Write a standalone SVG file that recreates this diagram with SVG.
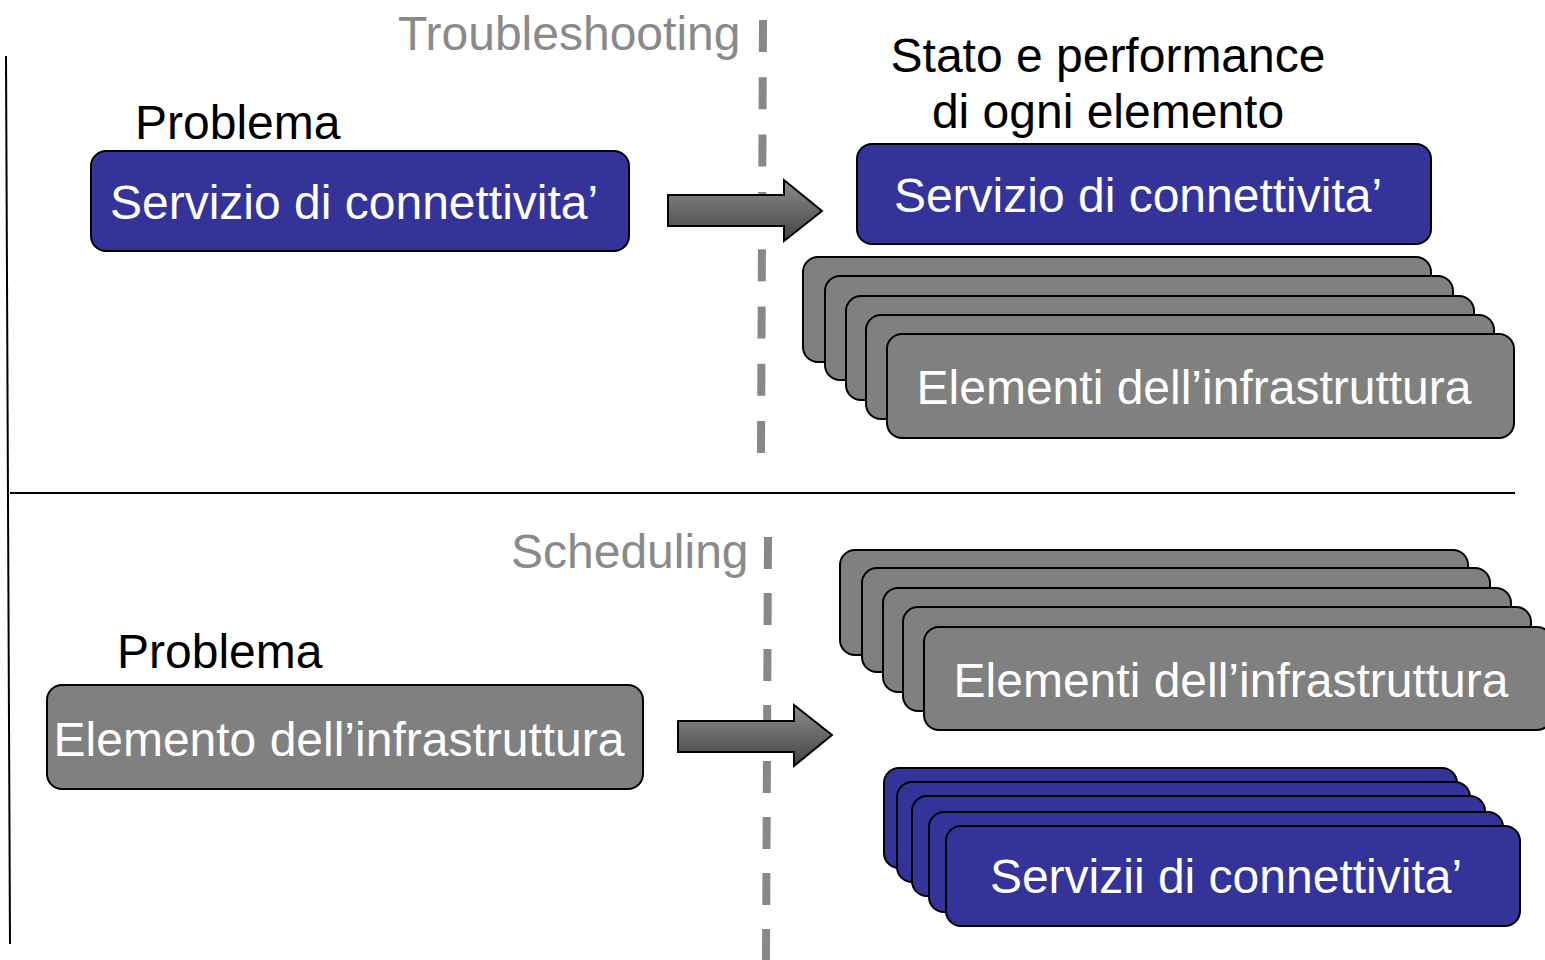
<svg xmlns="http://www.w3.org/2000/svg" width="1545" height="960" viewBox="0 0 1545 960">
<style>
text{font-family:"Liberation Sans",Arial,sans-serif;font-size:48px}
.blue{fill:#333399;stroke:#000;stroke-width:2}
.gray{fill:#808080;stroke:#000;stroke-width:2}
.w{fill:#fff}
.k{fill:#000}
.g{fill:#8a8a8a}
.dash{stroke:#888;stroke-width:8;fill:none}
.arrow{fill:url(#ag);stroke:#000;stroke-width:2;stroke-linejoin:miter}
</style>
<defs>
<linearGradient id="ag" x1="0" y1="0" x2="0" y2="1">
<stop offset="0" stop-color="#8c8c8c"/>
<stop offset="1" stop-color="#444"/>
</linearGradient>
</defs>
<rect width="1545" height="960" fill="#fff"/>
<g id="frame">
<line x1="6" y1="56" x2="10" y2="944" stroke="#000" stroke-width="2"/>
<line x1="10" y1="493" x2="1515" y2="493" stroke="#000" stroke-width="2"/>
</g>
<g id="dividers">
<line class="dash" x1="763" y1="20" x2="761" y2="453" stroke-dasharray="32 25.3"/>
<line class="dash" x1="768" y1="537" x2="766" y2="960" stroke-dasharray="32 24"/>
</g>
<g id="labels">
<text class="g" x="398" y="50">Troubleshooting</text>
<text class="g" x="511" y="568">Scheduling</text>
<text class="k" x="135" y="139">Problema</text>
<text class="k" x="117" y="668">Problema</text>
<text class="k" x="1108" y="72" text-anchor="middle">Stato e performance</text>
<text class="k" x="1108" y="128" text-anchor="middle">di ogni elemento</text>
</g>
<g id="connectors">
<polygon class="arrow" points="668,195 784,195 784,180 822,211 784,241 784,226 668,226"/>
<polygon class="arrow" points="678,721 794,721 794,705 832,735 794,766 794,752 678,752"/>
</g>
<g id="problem-service">
<rect class="blue" x="91" y="151" width="538" height="100" rx="15"/>
<text class="w" x="110" y="219">Servizio di connettivita’</text>
</g>
<g id="state-service">
<rect class="blue" x="857" y="144" width="574" height="100" rx="15"/>
<text class="w" x="1138" y="212" text-anchor="middle">Servizio di connettivita’</text>
</g>
<g id="top-elements">
<rect class="gray" x="803" y="257" width="628" height="105" rx="15"/>
<rect class="gray" x="825" y="276" width="628" height="104" rx="15"/>
<rect class="gray" x="846" y="296" width="628" height="104" rx="15"/>
<rect class="gray" x="866" y="315" width="628" height="104" rx="15"/>
<rect class="gray" x="887" y="334" width="627" height="104" rx="15"/>
<text class="w" x="1194" y="404" text-anchor="middle">Elementi dell’infrastruttura</text>
</g>
<g id="problem-element">
<rect class="gray" x="47" y="685" width="596" height="104" rx="15"/>
<text class="w" x="339" y="756" text-anchor="middle">Elemento dell’infrastruttura</text>
</g>
<g id="bottom-elements">
<rect class="gray" x="840" y="550" width="628" height="105" rx="15"/>
<rect class="gray" x="862" y="568" width="628" height="104" rx="15"/>
<rect class="gray" x="883" y="588" width="628" height="104" rx="15"/>
<rect class="gray" x="903" y="607" width="628" height="104" rx="15"/>
<rect class="gray" x="924" y="627" width="628" height="103" rx="15"/>
<text class="w" x="1231" y="697" text-anchor="middle">Elementi dell’infrastruttura</text>
</g>
<g id="services">
<rect class="blue" x="884" y="768" width="573" height="100" rx="15"/>
<rect class="blue" x="897" y="782" width="573" height="100" rx="15"/>
<rect class="blue" x="912" y="796" width="573" height="100" rx="15"/>
<rect class="blue" x="929" y="812" width="574" height="100" rx="15"/>
<rect class="blue" x="946" y="826" width="574" height="100" rx="15"/>
<text class="w" x="1226" y="893" text-anchor="middle">Servizii di connettivita’</text>
</g>
</svg>
